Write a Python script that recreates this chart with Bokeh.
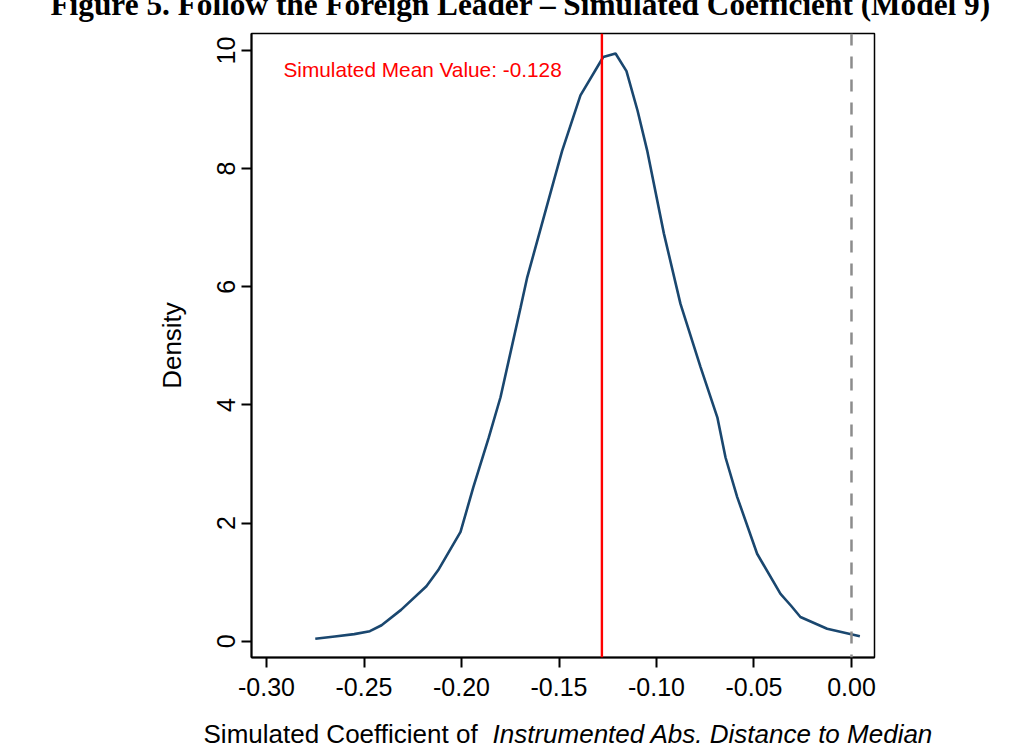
from bokeh.plotting import figure
from bokeh.models import Span, Label, FixedTicker, Range1d
from bokeh.embed import file_html
from bokeh.resources import INLINE

# ---- data ----
coef = [-0.275, -0.265, -0.255, -0.247, -0.241, -0.231, -0.218, -0.212, -0.2005,
        -0.194, -0.186, -0.180, -0.1697, -0.1663, -0.1526, -0.1484, -0.139,
        -0.1273, -0.121, -0.1154, -0.1097, -0.1048, -0.0962, -0.0877, -0.0774,
        -0.0688, -0.0646, -0.0586, -0.0484, -0.0364, -0.031, -0.0262, -0.0125, 0.0043]
density = [0.04, 0.08, 0.12, 0.17, 0.27, 0.53, 0.93, 1.20, 1.85,
           2.60, 3.45, 4.13, 5.65, 6.16, 7.80, 8.30, 9.24,
           9.89, 9.95, 9.65, 8.98, 8.31, 6.90, 5.71, 4.64,
           3.79, 3.11, 2.44, 1.48, 0.80, 0.60, 0.41, 0.21, 0.085]
mean_value = -0.128
zero_value = 0.0

x_ticks = [-0.30, -0.25, -0.20, -0.15, -0.10, -0.05, 0.00]
x_tick_labels = ["-0.30", "-0.25", "-0.20", "-0.15", "-0.10", "-0.05", "0.00"]
y_ticks = [0, 2, 4, 6, 8, 10]
y_tick_labels = ["0", "2", "4", "6", "8", "10"]

title_text = "Figure 5. Follow the Foreign Leader \u2013 Simulated Coefficient (Model 9)"
xlabel_plain = "Simulated Coefficient of"
xlabel_italic = "Instrumented Abs. Distance to Median"
ylabel = "Density"
mean_text = "Simulated Mean Value: -0.128"

FONT = "Liberation Sans"

p = figure(frame_width=623, frame_height=624,
           min_border_left=251, min_border_right=158,
           min_border_top=33, min_border_bottom=96,
           x_range=Range1d(-0.3077, 0.0118), y_range=Range1d(-0.276, 10.288),
           output_backend="svg", toolbar_location=None)

p.background_fill_color = "white"
p.border_fill_color = "white"
p.grid.visible = False
p.outline_line_color = "black"
p.outline_line_width = 1.5
p.outline_line_alpha = 1.0

# density curve
p.line(coef, density, line_color="#1A476F", line_width=2.6)

# reference lines
p.add_layout(Span(location=mean_value, dimension="height",
                  line_color="#FF0000", line_width=2.4))
p.add_layout(Span(location=zero_value, dimension="height",
                  line_color="#8C8C8C", line_width=2.5, line_dash="12 11"))

# axes
for ax in (p.xaxis[0], p.yaxis[0]):
    ax.axis_line_color = "black"
    ax.axis_line_width = 2
    ax.major_tick_line_color = "black"
    ax.major_tick_line_width = 2
    ax.major_tick_out = 10
    ax.major_tick_in = 0
    ax.minor_tick_line_color = None
    ax.major_label_text_font = FONT
    ax.major_label_text_font_size = "25px"
    ax.major_label_text_color = "black"
    ax.axis_label_text_font = FONT
    ax.axis_label_text_font_style = "normal"
    ax.axis_label_text_color = "black"

p.xaxis.ticker = FixedTicker(ticks=x_ticks)
p.xaxis.major_label_overrides = dict(zip(x_ticks, x_tick_labels))
p.xaxis.major_label_standoff = 10

p.yaxis.ticker = FixedTicker(ticks=y_ticks)
p.yaxis.major_label_overrides = dict(zip(y_ticks, y_tick_labels))
p.yaxis.major_label_orientation = "vertical"
p.yaxis.major_label_standoff = 6
p.yaxis.axis_label = ylabel
p.yaxis.axis_label_text_font_size = "26px"
p.yaxis.axis_label_standoff = 28

# red annotation
p.add_layout(Label(x=-0.2913, y=9.683, text=mean_text, text_color="#FF0000",
                   text_font=FONT, text_font_size="20.8px",
                   text_align="left", text_baseline="alphabetic"))

# x axis title (plain + italic parts) and figure title; kept in a side panel so
# they are not clipped to the frame (positions still in data units)
p.add_layout(Label(x=-0.3323, y=-1.563, text=xlabel_plain, text_color="black",
                   text_font=FONT, text_font_size="26px",
                   text_align="left", text_baseline="alphabetic"), "below")
p.add_layout(Label(x=-0.1841, y=-1.563, text=xlabel_italic, text_color="black",
                   text_font=FONT, text_font_size="26px", text_font_style="italic",
                   text_align="left", text_baseline="alphabetic"), "below")
p.add_layout(Label(x=-0.1697, y=10.78, text=title_text, text_color="black",
                   text_font="Liberation Serif", text_font_size="31.3px",
                   text_font_style="bold",
                   text_align="center", text_baseline="alphabetic"), "below")

open("out.html", "w").write(file_html(p, INLINE))
